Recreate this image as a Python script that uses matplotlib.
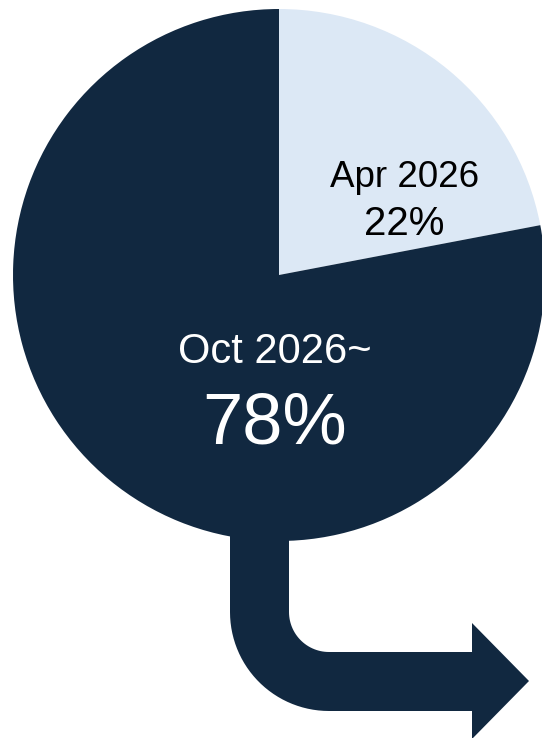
import numpy as np
import matplotlib.pyplot as plt
from matplotlib.patches import Polygon

# Share of the total by start date
periods = ["Apr 2026", "Oct 2026~"]
shares = [22, 78]
colors = ["#DCE8F5", "#112840"]

W, H = 542, 738
DARK = "#112840"

plt.rcParams["font.family"] = ["Liberation Sans", "DejaVu Sans"]

fig = plt.figure(figsize=(W / 100, H / 100), dpi=100)
ax = fig.add_axes([0, 0, 1, 1])

cx, cy, r = 279, H - 275, 266
ax.pie(shares, colors=colors, startangle=90, counterclock=False,
       center=(cx, cy), radius=r, wedgeprops=dict(linewidth=0))

# bent arrow leaving the bottom of the pie
inner_r, outer_r = 40, 99
ac = (329, 126)
t_in = np.linspace(np.pi, 1.5 * np.pi, 30)
t_out = t_in[::-1]
arc_in = np.column_stack([ac[0] + inner_r * np.cos(t_in), ac[1] + inner_r * np.sin(t_in)])
arc_out = np.column_stack([ac[0] + outer_r * np.cos(t_out), ac[1] + outer_r * np.sin(t_out)])
pts = np.vstack([
    [[230, 231], [289, 231]],
    arc_in,
    [[472, 86], [472, 115], [529, 57], [472, -1], [472, 27]],
    arc_out,
])
ax.add_patch(Polygon(pts, closed=True, facecolor=DARK, edgecolor="none"))

# labels
ax.text(405, H - 187, periods[0], ha="center", va="baseline", fontsize=26.5, color="black")
ax.text(404, H - 235, f"{shares[0]}%", ha="center", va="baseline", fontsize=29, color="black")
ax.text(275, H - 363, periods[1], ha="center", va="baseline", fontsize=30, color="white")
ax.text(275, H - 443, f"{shares[1]}%", ha="center", va="baseline", fontsize=52, color="white")

ax.set_xlim(0, W)
ax.set_ylim(0, H)
ax.set_aspect("auto")
ax.axis("off")

fig.savefig("out.png", dpi=100)
